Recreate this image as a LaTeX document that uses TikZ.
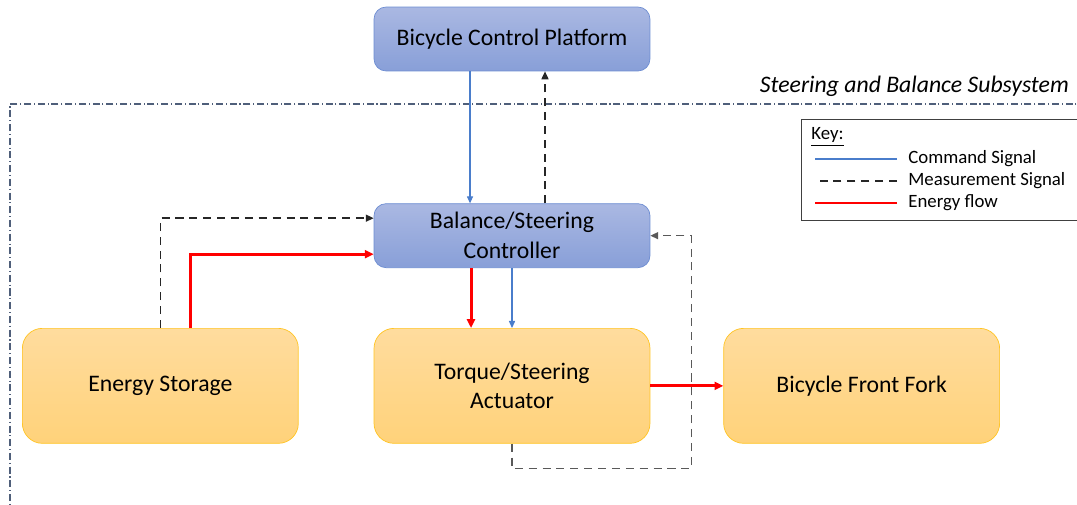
\documentclass[tikz,border=0pt]{standalone}
\usepackage{fontspec}
\setmainfont{Carlito}
\usetikzlibrary{arrows.meta, positioning}
\definecolor{ctrltop}{HTML}{AAB8E2}
\definecolor{ctrlbot}{HTML}{889FD8}
\definecolor{ctrlline}{HTML}{6D8DD2}
\definecolor{unittop}{HTML}{FFDC9E}
\definecolor{unitbot}{HTML}{FFD27A}
\definecolor{unitline}{HTML}{FFC423}
\definecolor{cmdblue}{HTML}{4A7DCB}
\definecolor{sysline}{HTML}{4F5F7A}
\tikzstyle{ctrlblock} = [rectangle, rounded corners=0.24cm, minimum width=5.52cm, minimum height=1.28cm, align=center, draw=ctrlline, top color=ctrltop, bottom color=ctrlbot, font=\fontsize{13.5}{17}\selectfont]
\tikzstyle{unitblock} = [rectangle, rounded corners=0.4cm, minimum width=5.52cm, minimum height=2.3cm, align=center, draw=unitline, top color=unittop, bottom color=unitbot, font=\fontsize{13.5}{17}\selectfont]
\tikzstyle{cmd} = [cmdblue, line width=0.6pt, -{Triangle[length=4pt,width=3.5pt]}]
\tikzstyle{meas} = [black!85, line width=0.8pt, dash pattern=on 4.6pt off 3.3pt, -{Triangle[length=4.5pt,width=4pt]}]
\tikzstyle{energy} = [red, line width=1.7pt, -{Triangle[length=5pt,width=4.5pt]}]

\begin{document}
\begin{tikzpicture}[x=0.02cm, y=-0.02cm, node distance=1.5cm]
  \clip (0,0) rectangle (1077,504);
  % subsystem border
  \draw[sysline, line width=0.6pt, dash pattern=on 4pt off 1.6pt on 0.6pt off 1.6pt] (1100,104) -- (10,104) -- (10,520);
  \node[anchor=base east, font=\fontsize{13.5}{16}\selectfont\itshape] (systitle) at (1075,92) {Steering and Balance Subsystem};

  \node[ctrlblock] (plat) at (512,39) {Bicycle Control Platform};
  \node[ctrlblock, below=2.64cm of plat] (ctrl) {Balance/Steering\\Controller};
  \node[unitblock, below=1.2cm of ctrl] (act) {Torque/Steering\\Actuator};
  \node[unitblock, left=1.5cm of act] (store) {Energy Storage};
  \node[unitblock, right=1.46cm of act] (fork) {Bicycle Front Fork};

  % key
  \node[draw=black!75, line width=0.6pt, anchor=north west, minimum width=6cm, minimum height=2.02cm] (key) at (801,119) {};
  \node[anchor=west, inner sep=0pt, font=\fontsize{10.7}{12}\selectfont] (keytxt) at (811,137) {\underline{Key:}};
  \node[anchor=west, inner sep=0pt, font=\fontsize{10.7}{12}\selectfont] (cmdtxt) at (908,159) {Command Signal};
  \node[anchor=west, inner sep=0pt, font=\fontsize{10.7}{12}\selectfont] (meastxt) at (908,181) {Measurement Signal};
  \node[anchor=west, inner sep=0pt, font=\fontsize{10.7}{12}\selectfont] (entxt) at (908,203) {Energy flow};
  \draw[cmdblue, line width=0.6pt] ([xshift=-0.22cm]cmdtxt.west) -- ++(-1.64cm,0);
  \draw[black!85, line width=0.6pt, dash pattern=on 4.6pt off 3.3pt] ([xshift=-0.22cm]meastxt.west) -- ++(-1.64cm,0);
  \draw[red, line width=1.2pt] ([xshift=-0.22cm]entxt.west) -- ++(-1.64cm,0);

  % signals
  \draw[cmd] ([xshift=-0.84cm]plat.south) -- ([xshift=-0.84cm]ctrl.north);
  \draw[meas] ([xshift=0.66cm]ctrl.north) -- ([xshift=0.66cm]plat.south);
  \draw[meas] (store.north) |- ([yshift=0.35cm]ctrl.west);
  \draw[energy] ([xshift=0.6cm]store.north) |- ([yshift=-0.37cm]ctrl.west);
  \draw[energy] ([xshift=-0.82cm]ctrl.south) -- ([xshift=-0.82cm]act.north);
  \draw[cmd] (ctrl.south) -- (act.north);
  \draw[energy] (act.east) -- (fork.west);
  \draw[meas, black!65] (act.south) -- ++(0,-0.5cm) -| ([xshift=0.82cm]ctrl.east) -- (ctrl.east);
\end{tikzpicture}
\end{document}
